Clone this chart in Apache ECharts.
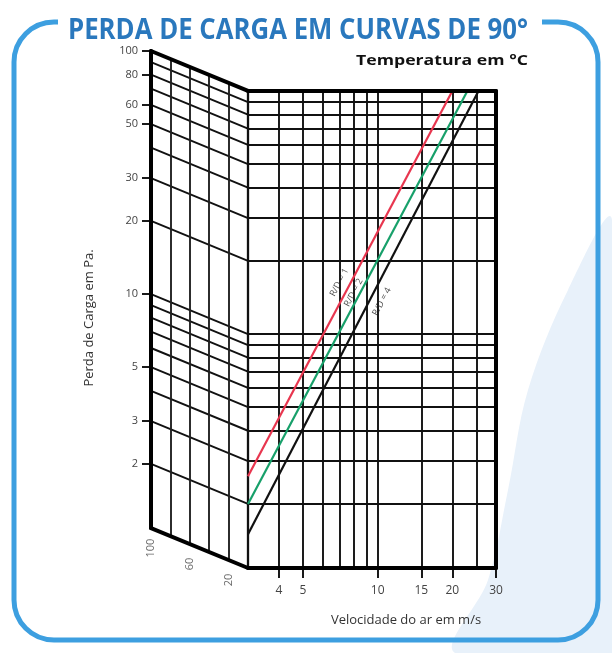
<!DOCTYPE html>
<html><head><meta charset="utf-8">
<script src="https://cdn.jsdelivr.net/npm/echarts@6/dist/echarts.min.js"></script>
<style>html,body{margin:0;padding:0;background:#fff}#c{width:612px;height:653px}</style>
</head><body><div id="c"></div>
<script>
// ---------------- data ----------------
const PRESSURE_TICKS = [2, 3, 5, 10, 20, 30, 50, 60, 80, 100];
const PRESSURE_LINES = [90, 80, 70, 60, 50, 40, 30, 20, 10, 9, 8, 7, 6, 5, 4, 3, 2];
const PRESSURE_MIN = 1.09;
const PRESSURE_MAX = 100;
const TEMP_LINES = [80, 60, 40, 20];
const TEMP_LABELS = [100, 60, 20];
const TEMP_MIN = 0, TEMP_MAX = 100;
const TEMP_FACTOR = 1.46;           // pressure-loss ratio between 100 °C and 0 °C
const VEL_MIN = 3, VEL_MAX = 30;
const VEL_TICKS = [4, 5, 10, 15, 20, 30];
const VEL_LINES = [4, 5, 6, 7, 8, 9, 10, 15, 20, 25];
const RD_NAMES = ['R/D = 1', 'R/D = 2', 'R/D = 4'];
const RD1 = [[3, 2.6], [20, 100]];
const RD2 = [[3, 2.0], [23, 100]];
const RD4 = [[3, 1.5], [25.5, 100]];

const TITLE = 'PERDA DE CARGA EM CURVAS DE 90°';
const TEMP_TITLE = 'Temperatura em °C';
const Y_NAME = 'Perda de Carga em Pa.';
const X_NAME = 'Velocidade do ar em m/s';

// --------------- helpers ---------------
function shift(v, t) { return v / Math.pow(TEMP_FACTOR, (TEMP_MAX - t) / (TEMP_MAX - TEMP_MIN)); }
const PX_PER_DEC = 243.05;
function below(v, px) { return v / Math.pow(10, px / PX_PER_DEC); }

function seg(list, xi, yi, color, width, z) {
  return { type: 'lines', coordinateSystem: 'cartesian2d', xAxisIndex: xi, yAxisIndex: yi,
    polyline: false, silent: true, z: z || 2, animation: false,
    lineStyle: { color: color, width: width, opacity: 1, cap: 'round' },
    data: list.map(c => ({ coords: c })) };
}

const series = [];
// left (temperature) region
series.push(seg(PRESSURE_LINES.map(v => [[TEMP_MAX, v], [TEMP_MIN, shift(v, TEMP_MIN)]]), 0, 0, '#111', 1.9));
series.push(seg(TEMP_LINES.map(t => [[t, shift(PRESSURE_MIN, t)], [t, shift(PRESSURE_MAX, t)]]), 0, 0, '#222', 1.9));
series.push(seg([
  [[TEMP_MAX, PRESSURE_MAX], [TEMP_MIN, shift(PRESSURE_MAX, TEMP_MIN)]],
  [[TEMP_MAX, PRESSURE_MIN], [TEMP_MIN, shift(PRESSURE_MIN, TEMP_MIN)]],
  [[TEMP_MAX, PRESSURE_MIN], [TEMP_MAX, PRESSURE_MAX]]
], 0, 0, '#000', 4, 4));
// right (velocity) region
series.push(seg(PRESSURE_LINES.map(v => [[VEL_MIN, v], [VEL_MAX, v]]), 1, 1, '#111', 1.9));
series.push(seg(VEL_LINES.map(x => [[x, PRESSURE_MIN], [x, PRESSURE_MAX]]), 1, 1, '#111', 1.9));
series.push(seg([[[VEL_MIN, PRESSURE_MIN], [VEL_MIN, PRESSURE_MAX]]], 1, 1, '#111', 2.3));
series.push(seg([
  [[VEL_MIN, PRESSURE_MAX], [VEL_MAX, PRESSURE_MAX]],
  [[VEL_MIN, PRESSURE_MIN], [VEL_MAX, PRESSURE_MIN]],
  [[VEL_MAX, PRESSURE_MIN], [VEL_MAX, PRESSURE_MAX]]
], 1, 1, '#000', 4, 4));

// R/D curves
const RD_DATA = [RD1, RD2, RD4];
const RD_COLORS = ['#e8364f', '#17a06a', '#111'];
RD_DATA.forEach((d, i) => {
  series.push({ type: 'line', name: RD_NAMES[i], xAxisIndex: 1, yAxisIndex: 1, data: d,
    showSymbol: false, animation: false, z: 3, clip: true,
    lineStyle: { color: RD_COLORS[i], width: 2.2 } });
});
// R/D labels
const RD_LABEL_AT = [[7.0, 16.3], [8.0, 14.8], [10.4, 13.6]];
RD_LABEL_AT.forEach((p, i) => {
  series.push({ type: 'scatter', xAxisIndex: 1, yAxisIndex: 1, data: [p], symbolSize: 1,
    itemStyle: { color: 'transparent' }, animation: false, z: 5, silent: true, clip: false,
    label: { show: true, position: 'inside', formatter: RD_NAMES[i], rotate: 62,
      fontSize: 9, color: '#222', fontFamily: 'Open Sans' } });
});
// temperature labels
series.push({ type: 'scatter', xAxisIndex: 0, yAxisIndex: 0, clip: false,
  data: TEMP_LABELS.map(t => [t, below(shift(PRESSURE_MIN, t), 20)]),
  symbolSize: 1, itemStyle: { color: 'transparent' }, animation: false, silent: true,
  label: { show: true, position: 'inside', rotate: 90, fontSize: 11, color: '#444',
    fontFamily: 'Open Sans', formatter: p => String(p.value[0]) } });

const chart = echarts.init(document.getElementById('c'), null, { renderer: 'canvas' });

const ctx = document.createElement('canvas').getContext('2d');
ctx.font = 'bold 28px "Open Sans"';
const titleScale = 460 / ctx.measureText(TITLE).width;
ctx.font = 'bold 15px "Open Sans"';
const tempScale = 172 / ctx.measureText(TEMP_TITLE).width;

chart.setOption({
  backgroundColor: '#ffffff',
  animation: false,
  grid: [
    { left: 151, top: 51, width: 97, height: 517 },
    { left: 248, top: 91, width: 248, height: 477 }
  ],
  xAxis: [
    { gridIndex: 0, type: 'value', min: TEMP_MIN, max: TEMP_MAX, inverse: true,
      axisLine: { show: false, onZero: false }, axisTick: { show: false }, axisLabel: { show: false }, splitLine: { show: false } },
    { gridIndex: 1, type: 'log', logBase: 10, min: VEL_MIN, max: VEL_MAX,
      axisLine: { show: false, onZero: false }, splitLine: { show: false },
      axisTick: { show: true, customValues: VEL_TICKS, length: 10, lineStyle: { color: '#000', width: 1.8 } },
      axisLabel: { show: true, customValues: VEL_TICKS, margin: 17, fontSize: 12, color: '#444', fontFamily: 'Open Sans' } }
  ],
  yAxis: [
    { gridIndex: 0, type: 'log', logBase: 10, position: 'left', min: shift(PRESSURE_MIN, TEMP_MIN), max: PRESSURE_MAX,
      axisLine: { show: false, onZero: false }, splitLine: { show: false },
      axisTick: { show: true, customValues: PRESSURE_TICKS, length: 9, lineStyle: { color: '#000', width: 1.8 } },
      axisLabel: { show: true, customValues: PRESSURE_TICKS, margin: 13, fontSize: 11, color: '#444', fontFamily: 'Open Sans' } },
    { gridIndex: 1, type: 'log', logBase: 10, min: PRESSURE_MIN, max: PRESSURE_MAX,
      axisLine: { show: false, onZero: false }, axisTick: { show: false }, axisLabel: { show: false }, splitLine: { show: false } }
  ],
  graphic: [
    { type: 'polygon', z: -20, silent: true,
      shape: { points: [[612, 220], [568, 290], [528, 390], [508, 490], [488, 580], [455, 653], [612, 653]], smooth: 0.35 },
      style: { fill: '#e8f1fa' } },
    { type: 'rect', z: -10, silent: true, shape: { x: 14, y: 22, width: 584, height: 618, r: 40 },
      style: { fill: 'none', stroke: '#3d9fe0', lineWidth: 5 } },
    { type: 'rect', z: -9, silent: true, shape: { x: 58, y: 5, width: 484, height: 34 }, style: { fill: '#ffffff' } },
    { type: 'text', z: 10, x: 298, y: 31, scaleX: titleScale, silent: true,
      style: { text: TITLE, font: 'bold 28px "Open Sans"', fill: '#2a78bd', align: 'center', verticalAlign: 'middle' } },
    { type: 'text', z: 10, x: 442, y: 61, scaleX: tempScale, silent: true,
      style: { text: TEMP_TITLE, font: 'bold 15px "Open Sans"', fill: '#111', align: 'center', verticalAlign: 'middle' } },
    { type: 'text', z: 10, x: 89, y: 318, rotation: Math.PI / 2, silent: true,
      style: { text: Y_NAME, font: '13px "Open Sans"', fill: '#333', align: 'center', verticalAlign: 'middle' } },
    { type: 'text', z: 10, x: 406, y: 620, silent: true,
      style: { text: X_NAME, font: '13px "Open Sans"', fill: '#333', align: 'center', verticalAlign: 'middle' } }
  ],
  series: series
});
</script>
</body></html>
